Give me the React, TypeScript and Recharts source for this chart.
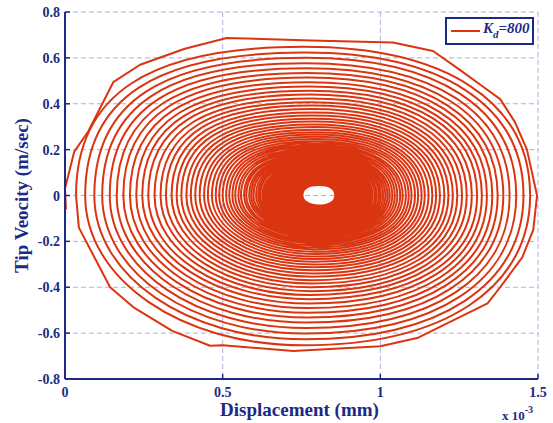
import { LineChart, Line, XAxis, YAxis, CartesianGrid, Legend } from "recharts";

// outermost loop, read vertex by vertex (x in mm x 10^-3, v in m/s)
const outerX = [
  0.003, 0, 0.029, 0.074, 0.153, 0.238, 0.38, 0.513, 0.78, 1.04,
  1.167, 1.25, 1.325, 1.38, 1.427, 1.465, 1.497, 1.485, 1.45, 1.38,
  1.34, 1.12, 1.0, 0.724, 0.5, 0.46, 0.34, 0.22, 0.143, 0.044,
];
const outerV = [
  -0.06, 0.03, 0.19, 0.28, 0.494, 0.57, 0.64, 0.687, 0.676, 0.667,
  0.63, 0.55, 0.475, 0.42, 0.32, 0.2, 0, -0.15, -0.27, -0.4,
  -0.47, -0.62, -0.657, -0.678, -0.653, -0.655, -0.59, -0.49, -0.4, -0.14,
];

// inner loops of the spiral, one entry per loop (outer -> inner)
const loopCentre = [
  0.755, 0.759, 0.762, 0.764, 0.766, 0.768, 0.77, 0.772, 0.774,
  0.776, 0.777, 0.779, 0.781, 0.782, 0.784, 0.785, 0.786, 0.787, 0.788,
  0.789, 0.79, 0.791, 0.792, 0.793, 0.794, 0.794, 0.795, 0.796, 0.796,
  0.797, 0.797, 0.798, 0.798, 0.799, 0.799, 0.8, 0.8, 0.8, 0.801,
  0.801, 0.801, 0.801, 0.802, 0.802, 0.802, 0.802, 0.803, 0.803, 0.803,
  0.803, 0.803, 0.803, 0.803, 0.804, 0.804, 0.804, 0.804, 0.804, 0.804,
  0.804, 0.804, 0.805, 0.805, 0.805, 0.805, 0.805, 0.805, 0.805, 0.805,
  0.805, 0.805, 0.805, 0.805, 0.805, 0.805, 0.805, 0.805,
];
const loopHalfWidth = [
  0.72, 0.695, 0.669, 0.646, 0.624, 0.604, 0.585, 0.566, 0.548,
  0.531, 0.513, 0.495, 0.478, 0.462, 0.446, 0.431, 0.417, 0.402, 0.389,
  0.376, 0.363, 0.35, 0.339, 0.327, 0.316, 0.305, 0.295, 0.285, 0.275,
  0.266, 0.257, 0.248, 0.24, 0.231, 0.224, 0.216, 0.209, 0.202, 0.195,
  0.188, 0.182, 0.175, 0.17, 0.164, 0.158, 0.153, 0.148, 0.143, 0.138,
  0.133, 0.129, 0.124, 0.12, 0.116, 0.112, 0.108, 0.104, 0.101, 0.097,
  0.094, 0.091, 0.088, 0.085, 0.082, 0.079, 0.077, 0.074, 0.071, 0.069,
  0.067, 0.064, 0.062, 0.06, 0.058, 0.056, 0.054, 0.052,
];
const loopTop = [
  0.648, 0.623, 0.6, 0.577, 0.555, 0.534, 0.514, 0.494, 0.475,
  0.457, 0.44, 0.423, 0.407, 0.392, 0.377, 0.362, 0.349, 0.335, 0.323,
  0.31, 0.299, 0.287, 0.276, 0.266, 0.256, 0.246, 0.237, 0.228, 0.219,
  0.211, 0.203, 0.195, 0.188, 0.18, 0.174, 0.167, 0.161, 0.155, 0.149,
  0.143, 0.138, 0.132, 0.127, 0.122, 0.118, 0.113, 0.109, 0.105, 0.101,
  0.097, 0.094, 0.091, 0.088, 0.085, 0.082, 0.079, 0.077, 0.074, 0.072,
  0.07, 0.068, 0.066, 0.064, 0.062, 0.06, 0.058, 0.057, 0.055, 0.054,
  0.052, 0.051, 0.05, 0.049, 0.048, 0.047, 0.046, 0.046,
];
const loopBottom = [
  0.653, 0.627, 0.602, 0.578, 0.554, 0.532, 0.511, 0.491, 0.471,
  0.452, 0.434, 0.417, 0.4, 0.384, 0.369, 0.354, 0.34, 0.326, 0.313,
  0.301, 0.289, 0.277, 0.266, 0.255, 0.245, 0.235, 0.226, 0.217, 0.208,
  0.2, 0.192, 0.184, 0.177, 0.17, 0.163, 0.156, 0.15, 0.144, 0.138,
  0.133, 0.128, 0.122, 0.118, 0.113, 0.108, 0.104, 0.1, 0.096, 0.092,
  0.089, 0.086, 0.083, 0.08, 0.077, 0.074, 0.072, 0.069, 0.067, 0.065,
  0.063, 0.061, 0.059, 0.057, 0.055, 0.054, 0.052, 0.051, 0.05, 0.049,
  0.048, 0.047, 0.046, 0.046, 0.045, 0.045, 0.044, 0.044,
];

const xTicks = [0, 0.5, 1, 1.5];
const yTicks = [-0.8, -0.6, -0.4, -0.2, 0, 0.2, 0.4, 0.6, 0.8];

const NAVY = "#1c2a86";
const RED = "#da3510";
const FONT = '"Liberation Serif", "Times New Roman", serif';

// turning points of each loop, clockwise: left, top, right, bottom
const spiralData = loopCentre.flatMap((c, i) => [
  { x: c - loopHalfWidth[i], v: 0 },
  { x: c, v: loopTop[i] },
  { x: c + loopHalfWidth[i], v: 0 },
  { x: c, v: -loopBottom[i] },
]);

// the outer polygon runs into the first inner loop
const outerData = [...outerX.map((x, i) => ({ x, v: outerV[i] })), spiralData[0]];

// curve for the spiral: quarter arcs between turning points, vertical tangent
// at the v = 0 crossings, horizontal at the peaks. Fullness per quadrant:
// [bottom->left, left->top, top->right, right->bottom]
const FULL = [0.56, 0.68, 0.63, 0.62];
const quarterArcs = (context: any) => {
  let i = 0;
  let px = 0;
  let py = 0;
  return {
    areaStart() {},
    areaEnd() {},
    lineStart() {
      i = 0;
    },
    lineEnd() {},
    point(x: number, y: number) {
      const k = FULL[i % 4];
      if (i === 0) {
        context.moveTo(x, y);
      } else if (i % 2 === 1) {
        context.bezierCurveTo(px, py + k * (y - py), x - k * (x - px), y, x, y);
      } else {
        context.bezierCurveTo(px + k * (x - px), py, x, y - k * (y - py), x, y);
      }
      px = x;
      py = y;
      i++;
    },
  };
};

const fmt = (n: number) => (n === 0 ? "0" : String(n));

const BottomTick = (p: any) => (
  <g>
    <line x1={p.x} y1={p.y - 7} x2={p.x} y2={p.y - 12} stroke={NAVY} strokeWidth={1.5} />
    <text x={p.x} y={p.y} dy="0.75em" textAnchor="middle" fill={NAVY}
      fontFamily={FONT} fontWeight="bold" fontSize={14}>
      {fmt(p.payload.value)}
    </text>
  </g>
);

const LeftTick = (p: any) => (
  <g>
    <line x1={p.x + 5} y1={p.y} x2={p.x + 10} y2={p.y} stroke={NAVY} strokeWidth={1.5} />
    <text x={p.x} y={p.y} dy="0.36em" textAnchor="end" fill={NAVY}
      fontFamily={FONT} fontWeight="bold" fontSize={14}>
      {fmt(p.payload.value)}
    </text>
  </g>
);

const TopTick = (p: any) => (
  <line x1={p.x} y1={p.y} x2={p.x} y2={p.y + 5} stroke={NAVY} strokeWidth={1.5} />
);

const RightTick = (p: any) => (
  <line x1={p.x} y1={p.y} x2={p.x - 5} y2={p.y} stroke={NAVY} strokeWidth={1.5} />
);

const XTitle = (p: any) => {
  const vb = p.viewBox;
  return (
    <g fontFamily={FONT} fontWeight="bold" fill={NAVY}>
      <text x={vb.x + vb.width / 2 - 2} y={vb.y + 37} textAnchor="middle" fontSize={19}>
        Displacement (mm)
      </text>
      <text x={vb.x + vb.width - 36} y={vb.y + 41} fontSize={13}>
        x 10
        <tspan dy={-7} fontSize={10}>-3</tspan>
      </text>
    </g>
  );
};

const YTitle = (p: any) => {
  const vb = p.viewBox;
  const cx = vb.x + 28;
  const cy = vb.y + vb.height / 2;
  return (
    <text x={cx} y={cy} transform={`rotate(-90 ${cx} ${cy})`} textAnchor="middle"
      fontFamily={FONT} fontWeight="bold" fontSize={19} fill={NAVY}>
      Tip Veocity (m/sec)
    </text>
  );
};

const renderLegend = () => (
  <div
    style={{
      width: 89,
      height: 28,
      boxSizing: "border-box",
      border: `2px solid ${NAVY}`,
      background: "#fff",
      display: "flex",
      alignItems: "center",
    }}
  >
    <svg width={34} height={10} style={{ marginLeft: 2 }}>
      <line x1={2} y1={5} x2={31} y2={5} stroke={RED} strokeWidth={2} />
    </svg>
    <span
      style={{
        fontFamily: FONT,
        fontStyle: "italic",
        fontWeight: "bold",
        fontSize: 15,
        color: NAVY,
        lineHeight: "15px",
        whiteSpace: "nowrap",
      }}
    >
      K<sub style={{ fontSize: 11, verticalAlign: -5 }}>d</sub>=800
    </span>
  </div>
);

export default function App() {
  return (
    <div style={{ position: "absolute", left: 0, top: 0, background: "#fff" }}>
      <LineChart
        width={553}
        height={423}
        margin={{ top: 12, right: 15, bottom: 0, left: 0 }}
        style={{ fontFamily: FONT }}
      >
        <CartesianGrid stroke="#a9b2d8" strokeDasharray="5 3" strokeWidth={1} />
        <XAxis
          dataKey="x"
          type="number"
          domain={[0, 1.5]}
          ticks={xTicks}
          allowDataOverflow
          height={44}
          tickSize={0}
          tickMargin={7}
          tick={BottomTick}
          axisLine={{ stroke: NAVY, strokeWidth: 2 }}
          label={{ content: XTitle }}
        />
        <XAxis
          xAxisId="top"
          orientation="top"
          type="number"
          domain={[0, 1.5]}
          ticks={xTicks}
          height={0}
          tickSize={0}
          tickMargin={0}
          tick={TopTick}
          axisLine={{ stroke: NAVY, strokeWidth: 2 }}
        />
        <YAxis
          type="number"
          domain={[-0.8, 0.8]}
          ticks={yTicks}
          allowDataOverflow
          width={65}
          tickSize={0}
          tickMargin={5}
          tick={LeftTick}
          axisLine={{ stroke: NAVY, strokeWidth: 2 }}
          label={{ content: YTitle }}
        />
        <YAxis
          yAxisId="right"
          orientation="right"
          type="number"
          domain={[-0.8, 0.8]}
          ticks={yTicks}
          width={0}
          tickSize={0}
          tickMargin={0}
          tick={RightTick}
          axisLine={{ stroke: NAVY, strokeWidth: 2 }}
        />
        <Line
          data={outerData}
          dataKey="v"
          name="Kd=800"
          type="linear"
          stroke={RED}
          strokeWidth={2}
          strokeLinejoin="round"
          dot={false}
          activeDot={false}
          isAnimationActive={false}
        />
        <Line
          data={spiralData}
          dataKey="v"
          name="spiral"
          legendType="none"
          type={quarterArcs as any}
          stroke={RED}
          strokeWidth={2}
          dot={false}
          activeDot={false}
          isAnimationActive={false}
        />
        <Legend
          layout="vertical"
          align="center"
          verticalAlign="middle"
          content={renderLegend}
          wrapperStyle={{ left: 445, top: 17, width: 89, height: 28 }}
        />
      </LineChart>
    </div>
  );
}
